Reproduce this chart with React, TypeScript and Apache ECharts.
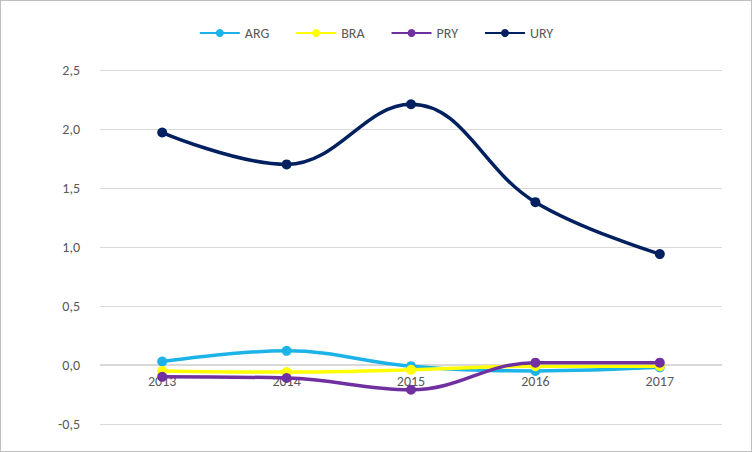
import { useEffect, useRef } from "react";
import * as echarts from "echarts";

const years = ["2013", "2014", "2015", "2016", "2017"];
const arg = [0.03, 0.12, -0.01, -0.05, -0.02];
const bra = [-0.05, -0.06, -0.04, -0.01, -0.01];
const pry = [-0.1, -0.11, -0.21, 0.02, 0.02];
const ury = [1.97, 1.7, 2.21, 1.38, 0.94];

const seriesDefs = [
  { name: "ARG", data: arg, color: "#1cb4e8" },
  { name: "BRA", data: bra, color: "#ffff00" },
  { name: "PRY", data: pry, color: "#7030a0" },
  { name: "URY", data: ury, color: "#002060" },
];

export default function App() {
  const ref = useRef<HTMLDivElement>(null);

  useEffect(() => {
    document.body.style.margin = "0";
    if (!ref.current) return;
    const chart = echarts.init(ref.current, null, { renderer: "svg" });
    chart.setOption({
      animation: false,
      backgroundColor: "#fff",
      textStyle: { fontFamily: "Calibri, Carlito, 'Liberation Sans', sans-serif" },
      legend: {
        top: 20,
        left: "center",
        itemWidth: 40,
        itemHeight: 10,
        itemGap: 26,
        textStyle: { color: "#595959", fontSize: 14 },
        data: seriesDefs.map((s) => s.name),
      },
      grid: { left: 99, right: 29, top: 69, bottom: 27 },
      xAxis: {
        type: "category",
        data: years,
        offset: -59.4,
        axisLine: { onZero: false, lineStyle: { color: "#d9d9d9" } },
        axisTick: { show: false },
        axisLabel: { color: "#595959", fontSize: 14, margin: 10 },
      },
      yAxis: {
        type: "value",
        min: -0.5,
        max: 2.5,
        interval: 0.5,
        axisLine: { show: false },
        axisTick: { show: false },
        splitLine: { lineStyle: { color: "#d9d9d9" } },
        axisLabel: {
          color: "#595959",
          fontSize: 14,
          margin: 20,
          formatter: (v: number) => v.toFixed(1).replace(".", ","),
        },
      },
      series: seriesDefs.map((s) => ({
        name: s.name,
        type: "line",
        smooth: 0.4,
        data: s.data,
        symbol: "circle",
        symbolSize: 10,
        itemStyle: { color: s.color },
        lineStyle: { color: s.color, width: 3.5 },
      })),
    });
    return () => chart.dispose();
  }, []);

  return (
    <div
      ref={ref}
      style={{ width: 750, height: 450, border: "1px solid #bfbfbf" }}
    />
  );
}
